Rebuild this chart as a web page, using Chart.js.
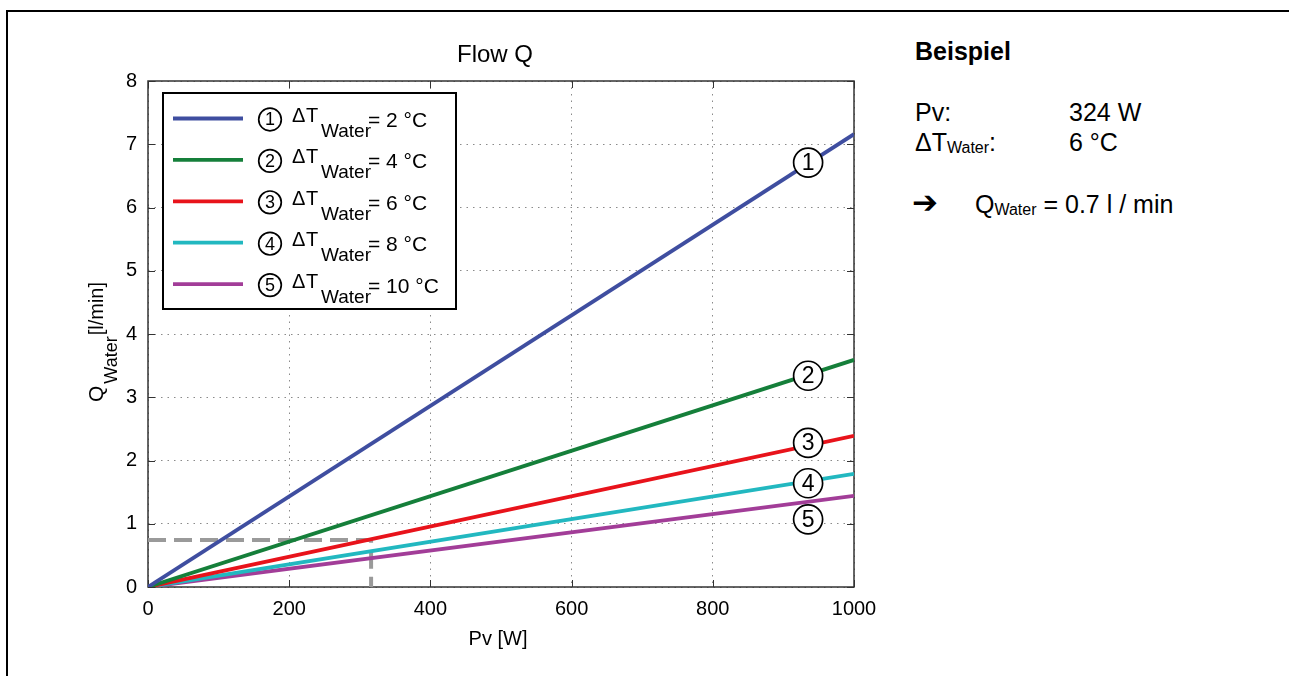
<!DOCTYPE html>
<html>
<head>
<meta charset="utf-8">
<script src="https://cdn.jsdelivr.net/npm/chart.js@4"></script>
<style>
  html, body { margin: 0; padding: 0; background: #fff; width: 1289px; height: 676px; overflow: hidden; }
  body { position: relative; font-family: "Liberation Sans", Arial, sans-serif; color: #000; }
  #frame { position: absolute; left: 6px; top: 10px; width: 1300px; height: 700px; border-left: 2px solid #000; border-top: 2px solid #000; }
  #chart { position: absolute; left: 0; top: 0; }
  .t { position: absolute; font-size: 25px; line-height: 25px; white-space: nowrap; }
  .b { font-weight: bold; }
  .sub { font-size: 16px; vertical-align: -2px; }
  .arrow { font-family: "DejaVu Sans", sans-serif; font-size: 31px; font-weight: bold; }
</style>
</head>
<body>
<div id="frame"></div>
<canvas id="chart" width="900" height="676"></canvas>

<div class="t b" style="left:915px; top:39px;">Beispiel</div>
<div class="t" style="left:915px; top:100px;">Pv:</div>
<div class="t" style="left:1069px; top:100px;">324 W</div>
<div class="t" style="left:915px; top:130px;">ΔT<span class="sub">Water</span>:</div>
<div class="t" style="left:1069px; top:130px;">6 °C</div>
<div class="t arrow" style="left:912px; top:190px;">➔</div>
<div class="t" style="left:975px; top:192px;">Q<span class="sub">Water</span> = 0.7 l / min</div>

<script>
// --- data ---
const pv = [0, 1000];                 // W
const deltaT = [2, 4, 6, 8, 10];      // °C
const flow2 = [0, 7.16];              // l/min
const flow4 = [0, 3.59];
const flow6 = [0, 2.39];
const flow8 = [0, 1.79];
const flow10 = [0, 1.44];
const exampleP = [0, 316, 316];
const exampleQ = [0.745, 0.745, 0];
const markP = 935;
const markQ = [6.71, 3.34, 2.28, 1.64, 1.07];
const xTicks = [0, 200, 400, 600, 800, 1000];
const yTicks = [0, 1, 2, 3, 4, 5, 6, 7, 8];

const colors = ['#3f4ea0', '#157f3a', '#e8131b', '#22b8c0', '#a23d98'];
const FONT = '"Liberation Sans", Arial, sans-serif';
const font = (size, bold) => (bold ? 'bold ' : '') + size + 'px ' + FONT;

const flows = [flow2, flow4, flow6, flow8, flow10];
const datasets = flows.map((f, i) => ({
    label: 'dT ' + deltaT[i],
    data: pv.map((p, k) => ({ x: p, y: f[k] })),
    borderColor: colors[i],
    borderWidth: 3.8,
    showLine: true,
    pointRadius: 0
}));
// reference line for the example (drawn below the curves)
datasets.push({
    label: 'Beispiel',
    data: exampleP.map((p, k) => ({ x: p, y: exampleQ[k] })),
    borderColor: '#9a9a9a',
    borderWidth: 4,
    borderDash: [18, 8],
    showLine: true,
    pointRadius: 0
});

function circled(ctx, cx, cy, r, n, size) {
    ctx.beginPath();
    ctx.arc(cx, cy, r, 0, Math.PI * 2);
    ctx.fillStyle = '#fff';
    ctx.fill();
    ctx.lineWidth = 1.7;
    ctx.strokeStyle = '#000';
    ctx.stroke();
    ctx.fillStyle = '#000';
    ctx.font = font(size);
    ctx.textAlign = 'center';
    ctx.textBaseline = 'middle';
    ctx.fillText(String(n), cx, cy + 1);
}

const decor = {
    id: 'decor',
    beforeDraw(chart) {
        const { ctx, chartArea: a } = chart;
        ctx.save();
        ctx.fillStyle = '#fff';
        ctx.fillRect(a.left, a.top, a.width, a.height);
        ctx.restore();
    },
    beforeDatasetsDraw(chart) {
        const { ctx, chartArea: a, scales: { x, y } } = chart;
        ctx.save();
        ctx.strokeStyle = '#333';
        ctx.lineWidth = 1;
        ctx.beginPath();
        xTicks.forEach(v => {
            const px = Math.round(x.getPixelForValue(v)) + 0.5;
            ctx.moveTo(px, a.bottom); ctx.lineTo(px, a.bottom - 7);
            ctx.moveTo(px, a.top); ctx.lineTo(px, a.top + 7);
        });
        yTicks.forEach(v => {
            const py = Math.round(y.getPixelForValue(v)) + 0.5;
            ctx.moveTo(a.left, py); ctx.lineTo(a.left + 7, py);
            ctx.moveTo(a.right, py); ctx.lineTo(a.right - 7, py);
        });
        ctx.stroke();
        ctx.lineWidth = 1.5;
        ctx.strokeRect(a.left, a.top, a.width, a.height);
        ctx.restore();
    },
    afterDatasetsDraw(chart) {
        const { ctx, scales: { x, y } } = chart;
        ctx.save();

        // numbered marks on the curves
        markQ.forEach((q, i) => circled(ctx, x.getPixelForValue(markP), y.getPixelForValue(q), 14.5, i + 1, 23));

        // legend
        const lx = 163, ly = 93, lw = 293, lh = 216;
        ctx.fillStyle = '#fff';
        ctx.fillRect(lx, ly, lw, lh);
        ctx.lineWidth = 2;
        ctx.strokeStyle = '#000';
        ctx.strokeRect(lx, ly, lw, lh);
        deltaT.forEach((t, i) => {
            const cy = 118.5 + i * 41.4;
            ctx.beginPath();
            ctx.moveTo(173, cy); ctx.lineTo(243, cy);
            ctx.strokeStyle = colors[i];
            ctx.lineWidth = 3.8;
            ctx.stroke();
            circled(ctx, 270, cy + 1, 11.3, i + 1, 18);
            ctx.fillStyle = '#000';
            ctx.textAlign = 'left';
            ctx.textBaseline = 'alphabetic';
            ctx.font = font(20);
            ctx.fillText('Δ', 292, cy + 3.5);
            ctx.fillText('T', 306, cy + 3.5);
            ctx.font = font(19);
            ctx.fillText('Water', 321, cy + 18.5);
            ctx.font = font(21);
            ctx.fillText('= ' + t + ' °C', 368, cy + 8.5);
        });

        // title and axis titles
        ctx.fillStyle = '#000';
        ctx.textAlign = 'center';
        ctx.textBaseline = 'alphabetic';
        ctx.font = font(24);
        ctx.fillText('Flow Q', 495, 62);
        ctx.font = font(20);
        ctx.fillText('Pv [W]', 498, 645);

        ctx.translate(103, 402);
        ctx.rotate(-Math.PI / 2);
        ctx.textAlign = 'left';
        ctx.font = font(21);
        ctx.fillText('Q', 0, 0);
        let w = ctx.measureText('Q').width + 2;
        ctx.font = font(18);
        ctx.fillText('Water', w, 14);
        w += ctx.measureText('Water').width + 1;
        ctx.font = font(20);
        ctx.fillText('[l/min]', w, 0);
        ctx.restore();
    }
};

new Chart(document.getElementById('chart'), {
    type: 'scatter',
    data: { datasets },
    options: {
        responsive: false,
        animation: false,
        devicePixelRatio: 1,
        layout: { padding: { top: 81, right: 46, left: 0, bottom: 0 } },
        plugins: { legend: { display: false }, tooltip: { enabled: false } },
        scales: {
            x: {
                type: 'linear', min: 0, max: 1000,
                afterFit: s => { s.height = 89; },
                afterBuildTicks: s => { s.ticks = xTicks.map(v => ({ value: v })); },
                ticks: { color: '#000', font: { size: 20, family: FONT }, padding: 10, maxRotation: 0, callback: v => String(v) },
                grid: { color: '#8a8a8a', lineWidth: 1, drawTicks: false },
                border: { display: false, dash: [1.5, 5] }
            },
            y: {
                type: 'linear', min: 0, max: 8,
                afterFit: s => { s.width = 148; },
                afterBuildTicks: s => { s.ticks = yTicks.map(v => ({ value: v })); },
                ticks: { color: '#000', font: { size: 20, family: FONT }, padding: 11, callback: v => String(v) },
                grid: { color: '#8a8a8a', lineWidth: 1, drawTicks: false },
                border: { display: false, dash: [1.5, 5] }
            }
        }
    },
    plugins: [decor]
});
</script>
</body>
</html>
